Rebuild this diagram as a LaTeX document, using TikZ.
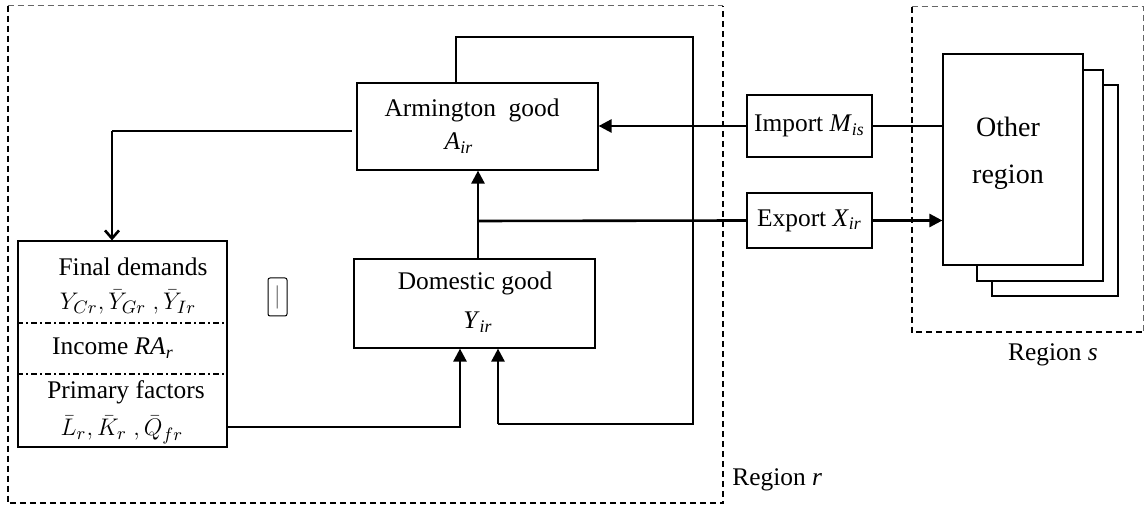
\documentclass[tikz,border=0pt]{standalone}
\usepackage{fontspec}
\setmainfont{Liberation Serif}
\usetikzlibrary{arrows.meta}
\newcommand{\vsub}[2]{\textit{#1}\textsubscript{\textit{#2}}}
\begin{document}
\begin{tikzpicture}[x=0.5pt,y=-0.5pt,
  box/.style={draw,line width=0.6pt,inner sep=0pt,align=center,fill=white},
  regthick/.style={line width=1pt,dash pattern=on 3pt off 2pt},
  regthin/.style={line width=0.5pt,gray!80!black,dash pattern=on 3pt off 2pt},
  thinln/.style={line width=0.6pt},
  thickln/.style={line width=1.3pt},
  tri/.style={-{Triangle[length=6.5pt,width=6.5pt]}},
  vee/.style={-{Straight Barb[length=4pt,width=7pt]}},
  lbl/.style={inner sep=0pt},
  font=\fontsize{12.7}{16}\selectfont]
\useasboundingbox (0,0) rectangle (1148,507);

% region boxes
\node[inner sep=0pt,minimum width=357.5pt,minimum height=248.5pt] (regr) at (365.5,254.5) {};
\draw[regthick] (regr.north west) -- (regr.south west) -- (regr.south east) -- (regr.north east);
\draw[regthin] (regr.north west) -- (regr.north east);
\node[inner sep=0pt,minimum width=115.5pt,minimum height=162.5pt] (regs) at (1027.5,169.5) {};
\draw[regthick] (regs.north west) -- (regs.south west) -- (regs.south east);
\draw[regthin] (regs.north west) -- (regs.north east) -- (regs.south east);
\node[lbl,anchor=west] (labr) at (732,480) {Region \textit{r}};
\node[lbl] (labs) at (1053,355) {Region \textit{s}};

% main boxes
\node[box,minimum width=120.5pt,minimum height=43.5pt] (arm) at (477.5,126.5) {};
\node[lbl] (armt) at (472,110) {Armington\ \ good};
\node[lbl] (arms) at (459,143) {\vsub{A}{ir}};

\node[box,minimum width=120.5pt,minimum height=44.5pt] (dom) at (474.5,303.5) {};
\node[lbl] (domt) at (475,283) {Domestic good};
\node[lbl] (doms) at (478,322) {\vsub{Y}{ir}};

\node[box,minimum width=62.5pt,minimum height=31pt] (imp) at (809.5,126) {Import \vsub{M}{is}};
\node[box,minimum width=62.5pt,minimum height=27.5pt] (exp) at (809.5,220.5) {Export \vsub{X}{ir}};

% other regions stack
\node[box,minimum width=63pt,minimum height=105.5pt] (oth3) at (1055,190.5) {};
\node[box,minimum width=63pt,minimum height=105.5pt] (oth2) at (1040,175.5) {};
\node[box,minimum width=70pt,minimum height=105.5pt] (oth) at (1013,159.5) {};
\node[lbl,align=center,font=\fontsize{14}{23.5}\selectfont] (otht) at (1008,153.5) {Other\\region};

% final demand box
\node[box,minimum width=104.5pt,minimum height=103pt] (fd) at (122.5,344) {};
\draw[line width=0.9pt,dash pattern=on 3pt off 1.5pt on 1pt off 1.5pt] (fd.west |- 0,323) -- (fd.east |- 0,323);
\draw[line width=0.9pt,dash pattern=on 3pt off 1.5pt on 1pt off 1.5pt] (fd.west |- 0,374) -- (fd.east |- 0,374);
\node[lbl] (fdt) at (133,267) {Final demands};
\node[lbl] (fdv) at (128,302) {$Y_{Cr},\bar{Y}_{Gr}\ ,\bar{Y}_{Ir}$};
\node[lbl] (inc) at (113,348) {Income \vsub{RA}{r}};
\node[lbl] (pft) at (126,392) {Primary factors};
\node[lbl] (pfv) at (122,430) {$\bar{L}_r,\bar{K}_r\ ,\bar{Q}_{fr}$};

% small stray text box
\node[draw,rounded corners=1pt,line width=0.5pt,minimum width=9.5pt,minimum height=19pt,inner sep=0pt,text=gray] (stray) at (277.5,297) {|};

% connectors
\coordinate (br) at (478,221);
\coordinate (c1) at (112,131);
\coordinate (c2) at (693,37);
\coordinate (c3) at (498,424);
\coordinate (c4) at (460,427);
\draw[thickln,tri] (imp.west) -- (imp.west -| arm.east);
\draw[thickln] (imp.east) -- (imp.east -| oth.west);
\draw[thickln,tri] (exp.east) -- (exp.east -| oth.west);
\draw[thickln,tri] (dom.north -| br) -- (arm.south -| br);
\draw[thickln] (br) -- (exp.west);
\draw[thinln] (arm.north -| 456,0) -- (456,37) -- (c2) -- (c2 |- c3) -- (c3);
\draw[thickln,tri] (c3) -- (dom.south -| c3);
\draw[thickln,tri] (fd.east |- c4) -- (c4) -- (dom.south -| c4);
\draw[thinln] (352,131) -- (c1);
\draw[thickln,vee] (c1) -- (fd.north -| c1);
\end{tikzpicture}
\end{document}
